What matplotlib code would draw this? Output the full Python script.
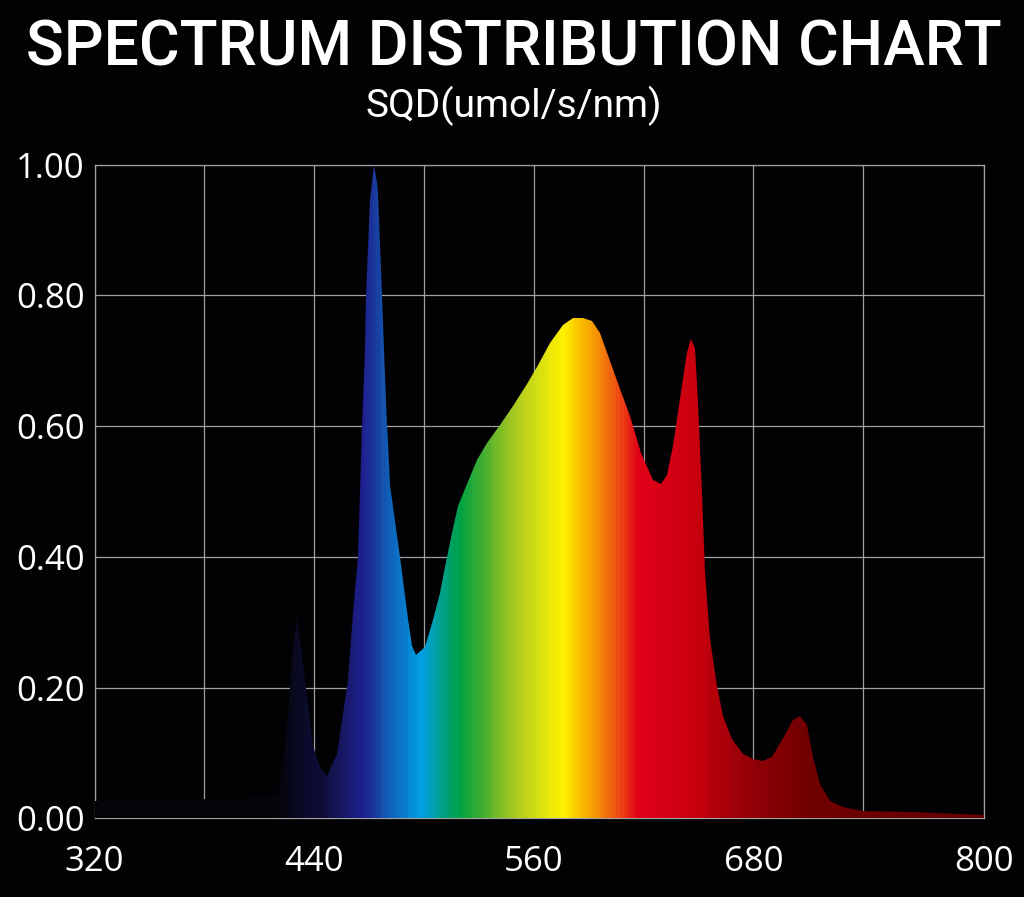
import numpy as np
import matplotlib
matplotlib.use("Agg")
import matplotlib.pyplot as plt
from matplotlib.colors import LinearSegmentedColormap
from matplotlib.patches import Polygon

# Spectrum (wavelength nm -> relative SQD)
wavelength = [320, 350, 380, 400, 412, 418, 420.4, 423.1, 425.9, 428.6, 430.8,
              435, 439.5, 443.2, 446.8, 452.3, 455.9, 458.7, 461.4, 463.8,
              466.3, 467.6, 468.3, 470.5, 471.4, 472.9, 474.5, 475, 476.9,
              478.2, 479.6, 480.2, 481.4, 486.9, 491.4, 493.3, 495.9, 500.5,
              505.1, 508.7, 511.5, 515.1, 518.7, 523.3, 528.8, 534.3, 541.5,
              548.8, 556.1, 561.6, 568.8, 576.1, 581.6, 587, 591.6, 596.2,
              601.6, 607.1, 612.5, 618.5, 625.3, 629.5, 632.6, 636.2, 638.9,
              641.7, 643.5, 645.7, 648.1, 649.9, 651.7, 653.5, 656.3, 659.9,
              663.5, 668.1, 674.4, 679.9, 684.5, 690, 695.4, 701.8, 705.4,
              709.1, 712.7, 716.3, 721.8, 729.1, 740, 764.8, 799.5, 800]
sqd = [0.026, 0.027, 0.029, 0.030, 0.032, 0.034, 0.036, 0.084, 0.16, 0.262, 0.308,
       0.212, 0.11, 0.079, 0.064, 0.099, 0.16, 0.212, 0.314, 0.40,
       0.60, 0.716, 0.80, 0.945, 0.971, 1.0, 0.971, 0.955, 0.80,
       0.716, 0.60, 0.576, 0.51, 0.40, 0.305, 0.264, 0.25, 0.262,
       0.303, 0.344, 0.385, 0.436, 0.477, 0.512, 0.548, 0.574, 0.602,
       0.63, 0.665, 0.691, 0.727, 0.755, 0.766, 0.766, 0.76, 0.742,
       0.70, 0.657, 0.616, 0.558, 0.517, 0.512, 0.525, 0.569, 0.621,
       0.672, 0.714, 0.733, 0.719, 0.636, 0.497, 0.378, 0.275, 0.202,
       0.156, 0.122, 0.099, 0.09, 0.088, 0.094, 0.12, 0.151, 0.156,
       0.143, 0.094, 0.053, 0.027, 0.018, 0.011, 0.009, 0.005, 0.005]

x_ticks = [320, 440, 560, 680, 800]
x_grid = [320, 380, 440, 500, 560, 620, 680, 740, 800]
y_ticks = [0.0, 0.2, 0.4, 0.6, 0.8, 1.0]

# colour of the fill along the wavelength axis
spec_nm = [320, 420, 432, 445, 458, 467, 473, 481, 490, 498, 507, 520, 534,
           549, 563, 576, 589, 603, 618, 649, 673, 709, 800]
spec_col = ["#040408", "#040409", "#0a0a26", "#0e0e3a", "#1a1a70", "#1e2090",
            "#1a3c9e", "#1060b8", "#0a80d0", "#00a0e6", "#00a0a0", "#00a040",
            "#50b030", "#a8c820", "#d8e010", "#fff000", "#f8b000", "#f06010",
            "#e00018", "#c8000e", "#9a0008", "#700000", "#640000"]

BG = "#020205"
GRID = "#a0a0a0"


# the source axis is a bit wider between 740 and 800
def fwd(x):
    x = np.asarray(x, float)
    return np.where(x <= 740, (x - 320) * 1.8305, 768.8 + (x - 740) * 2.0167)


def inv(p):
    p = np.asarray(p, float)
    return np.where(p <= 768.8, 320 + p / 1.8305, 740 + (p - 768.8) / 2.0167)


fig = plt.figure(figsize=(10.24, 8.97), dpi=100, facecolor=BG)
ax = fig.add_axes([0.0923, 0.0877, 0.8689, 0.7289], facecolor=BG)
ax.set_xscale("function", functions=(fwd, inv))
ax.set_xlim(320, 800)
ax.set_ylim(0, 1.0)

# gradient, clipped by the spectrum outline
pos = [(n - 320) / 480 for n in spec_nm]
cmap = LinearSegmentedColormap.from_list("spec", list(zip(pos, spec_col)))
xe = np.arange(320, 801, 1.0)
centers = (xe[:-1] + xe[1:]) / 2
mesh = ax.pcolormesh(xe, [0, 1.0], centers[np.newaxis, :], cmap=cmap,
                     vmin=320, vmax=800, shading="flat", zorder=2)
outline = np.column_stack([[wavelength[0]] + wavelength + [wavelength[-1]],
                           [0] + sqd + [0]])
patch = Polygon(outline, closed=True, facecolor="none", edgecolor="none",
                transform=ax.transData)
ax.add_patch(patch)
mesh.set_clip_path(patch)

# grid
ax.set_xticks(x_grid, minor=True)
ax.set_xticks(x_ticks)
ax.set_yticks(y_ticks)
ax.grid(True, which="both", axis="x", color=GRID, linewidth=0.9)
ax.grid(True, which="major", axis="y", color=GRID, linewidth=0.9)
ax.set_axisbelow(True)
for s in ax.spines.values():
    s.set_color(GRID)
    s.set_linewidth(0.9)
    s.set_zorder(0.6)

ax.set_xticklabels([str(t) for t in x_ticks])
ax.set_yticklabels([f"{t:.2f}" for t in y_ticks])
ax.tick_params(axis="both", which="both", length=0, colors="white")
ax.tick_params(axis="x", pad=19)
ax.tick_params(axis="y", pad=7)
for lab in ax.get_xticklabels() + ax.get_yticklabels():
    lab.set_fontfamily(["Open Sans", "DejaVu Sans"])
    lab.set_fontsize(25)

fig.text(0.502, 0.9275, "SPECTRUM DISTRIBUTION CHART", ha="center", va="baseline",
         color="white", fontsize=45, fontweight="medium",
         family=["Roboto", "DejaVu Sans"])
fig.text(0.5015, 0.8699, "SQD(umol/s/nm)", ha="center", va="baseline",
         color="white", fontsize=28, family=["Roboto", "DejaVu Sans"])

fig.savefig("out.png", dpi=100, facecolor=BG)
